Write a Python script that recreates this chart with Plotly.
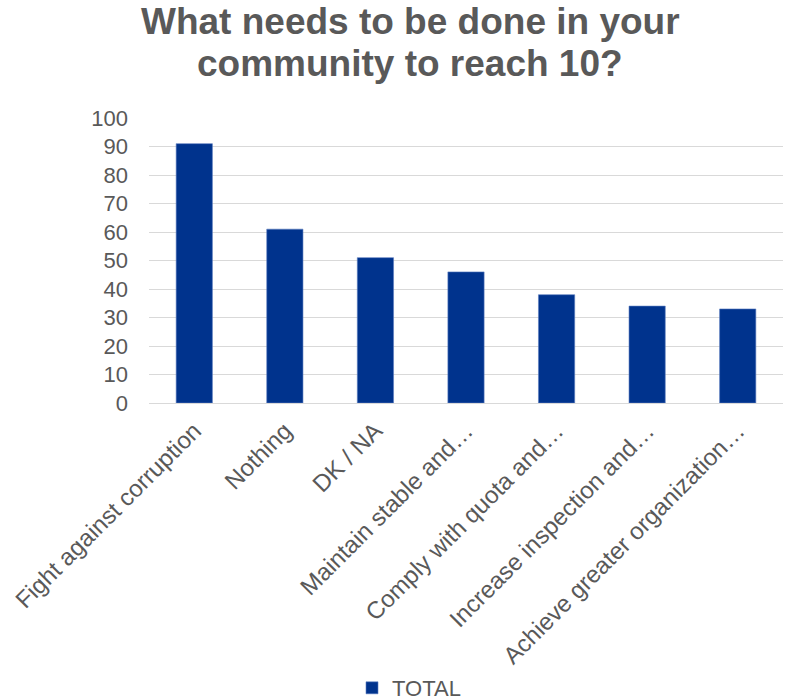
import plotly.graph_objects as go

categories = ["Fight against corruption", "Nothing", "DK / NA", "Maintain stable and…",
              "Comply with quota and…", "Increase inspection and…", "Achieve greater organization…"]
values = [91, 61, 51, 46, 38, 34, 33]
y_ticks = [0, 10, 20, 30, 40, 50, 60, 70, 80, 90, 100]
series_name = "TOTAL"
title_lines = ["What needs to be done in your", "community to reach 10?"]

fig = go.Figure()
fig.add_trace(go.Bar(
    x=categories, y=values, name=series_name,
    marker=dict(color="#00338D", line=dict(color="#5a7cc0", width=0.6)),
    width=0.4, showlegend=True,
))

title_font = dict(family="Liberation Sans, Arial, sans-serif", size=37, color="#595959")
for i, line in enumerate(title_lines):
    fig.add_annotation(text="<b>" + line + "</b>", xref="paper", yref="paper",
                       x=(410 - 149) / 634, y=(403 - (21 + 42 * i)) / 285,
                       xanchor="center", yanchor="middle", showarrow=False,
                       font=title_font)

fig.update_layout(
    width=790, height=700,
    margin=dict(l=149, r=7, t=118, b=297, autoexpand=False),
    paper_bgcolor="white", plot_bgcolor="white",
    font=dict(family="Liberation Sans, Arial, sans-serif", color="#595959", size=22),
    xaxis=dict(tickangle=-45, showgrid=False, showline=False, ticks="",
               tickfont=dict(size=24, color="#595959"), automargin=False,
               ticklabelstandoff=8),
    yaxis=dict(range=[0, 100], tickvals=y_ticks, showgrid=True, gridcolor="#d9d9d9",
               gridwidth=1, zeroline=True, zerolinecolor="#d9d9d9", zerolinewidth=1,
               tickfont=dict(size=22, color="#595959"), ticklabelstandoff=20,
               automargin=False),
    legend=dict(orientation="h", x=(352 - 149) / 634, xanchor="left",
                y=(403 - 709) / 285, yanchor="bottom",
                font=dict(size=22, color="#595959"), itemwidth=30),
    bargap=0.6,
)

fig.write_html("out.html", config={"displayModeBar": False},
               post_script="document.body.style.margin='0px';")
